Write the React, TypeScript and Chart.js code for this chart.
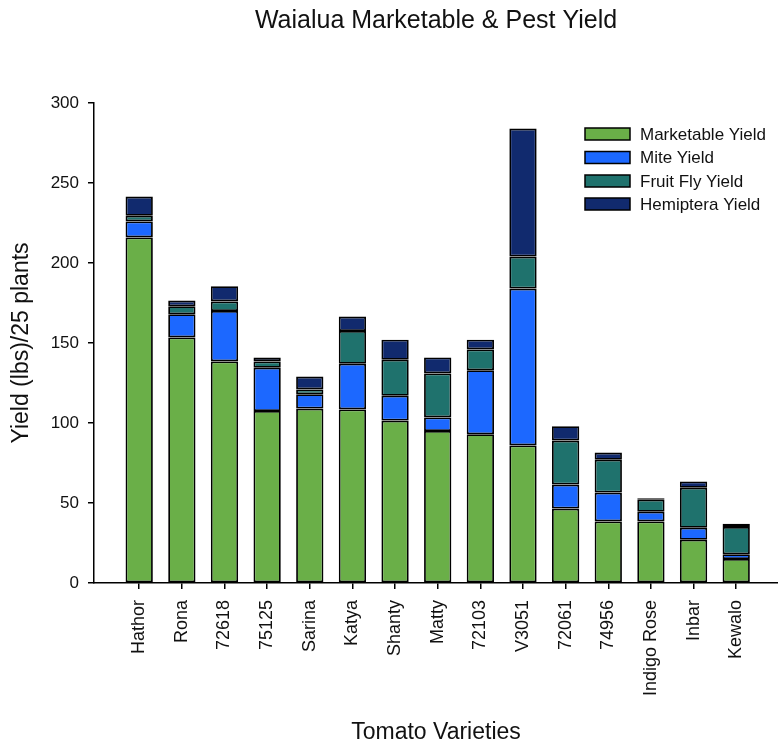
import React, { useEffect, useRef } from "react";
import { Chart, registerables } from "chart.js";

Chart.register(...registerables);

const categories = ["Hathor", "Rona", "72618", "75125", "Sarina", "Katya", "Shanty", "Matty", "72103", "V3051", "72061", "74956", "Indigo Rose", "Inbar", "Kewalo"];
const marketable = [216, 153.5, 138.5, 107.5, 109, 108.5, 101.5, 95, 93, 86, 46.5, 38.5, 38.5, 27, 15];
const mite = [10, 14.5, 31.5, 27, 9, 28.5, 15.5, 8.5, 40, 98, 15, 18, 6, 7.5, 3];
const fruitFly = [3.5, 5, 6, 4, 3, 20.5, 22.5, 27.5, 13, 20, 27.5, 20.5, 7.5, 25, 17];
const hemiptera = [12, 3.5, 9.5, 2.5, 8, 9, 12.5, 10, 6, 80, 9, 4.5, 1, 4, 2];
const seriesNames = ["Marketable Yield", "Mite Yield", "Fruit Fly Yield", "Hemiptera Yield"];
const seriesColors = ["#6aaf48", "#1c68ff", "#1f726d", "#112a6e"];
const yTicks = [0, 50, 100, 150, 200, 250, 300];

const TITLE = "Waialua Marketable & Pest Yield";
const X_TITLE = "Tomato Varieties";
const Y_TITLE = "Yield (lbs)/25 plants";
const FONT = "'Liberation Sans', Arial, sans-serif";

const textPlugin = {
  id: "textPlugin",
  afterDraw(chart: any) {
    const ctx = chart.ctx;
    const area = chart.chartArea;
    const cx = (area.left + area.right) / 2;
    ctx.save();
    ctx.fillStyle = "#111";
    ctx.textAlign = "center";
    ctx.textBaseline = "alphabetic";
    ctx.font = `25px ${FONT}`;
    ctx.fillText(TITLE, cx, 28);
    ctx.font = `23px ${FONT}`;
    ctx.fillText(X_TITLE, cx, 739);
    ctx.save();
    ctx.translate(28, (area.top + area.bottom) / 2);
    ctx.rotate(-Math.PI / 2);
    ctx.font = `23px ${FONT}`;
    ctx.fillText(Y_TITLE, 0, 0);
    ctx.restore();
    // legend
    const rowsY = [134, 157.5, 181, 204];
    ctx.font = `17px ${FONT}`;
    ctx.textAlign = "left";
    ctx.textBaseline = "middle";
    seriesNames.forEach((name, i) => {
      const y = rowsY[i];
      ctx.fillStyle = seriesColors[i];
      ctx.fillRect(585, y - 6, 45, 12);
      ctx.strokeStyle = "#000";
      ctx.lineWidth = 1.5;
      ctx.strokeRect(585, y - 6, 45, 12);
      ctx.fillStyle = "#111";
      ctx.fillText(name, 640, y + 1);
    });
    ctx.restore();
  },
};

export default function App() {
  const ref = useRef<HTMLCanvasElement>(null);
  useEffect(() => {
    if (!ref.current) return;
    const series = [marketable, mite, fruitFly, hemiptera];
    const chart = new Chart(ref.current, {
      type: "bar",
      data: {
        datasets: series.map((vals, s) => ({
          label: seriesNames[s],
          data: vals.map((v, i) => ({ x: i, y: v })),
          backgroundColor: seriesColors[s],
          borderColor: "#000",
          borderWidth: 1.8,
          borderSkipped: false,
          barPercentage: 0.64,
          categoryPercentage: 1,
        })),
      },
      options: {
        animation: false,
        responsive: false,
        layout: { padding: { top: 103, left: 0, right: 0, bottom: 0 } },
        plugins: { legend: { display: false }, title: { display: false }, tooltip: { enabled: false } },
        scales: {
          x: {
            type: "linear",
            stacked: true,
            offset: false,
            min: -1.06,
            max: 14.98,
            afterBuildTicks: (s: any) => {
              s.ticks = categories.map((_, i) => ({ value: i }));
            },
            afterFit: (s: any) => {
              s.height = 160;
            },
            ticks: {
              autoSkip: false,
              maxRotation: 90,
              minRotation: 90,
              padding: 11,
              color: "#111",
              font: { family: FONT, size: 18 },
              callback: (v: any) => categories[v] ?? "",
            },
            grid: { offset: false, drawOnChartArea: false, drawTicks: true, tickLength: 6, color: "#000", lineWidth: 1.5 },
            border: { display: true, color: "#000", width: 1.5 },
          },
          y: {
            stacked: true,
            min: 0,
            max: 300,
            afterBuildTicks: (s: any) => {
              s.ticks = yTicks.map((v) => ({ value: v }));
            },
            afterFit: (s: any) => {
              s.width = 94;
            },
            ticks: {
              padding: 9,
              color: "#111",
              font: { family: FONT, size: 17 },
            },
            grid: { drawOnChartArea: false, drawTicks: true, tickLength: 6, color: "#000", lineWidth: 1.5 },
            border: { display: true, color: "#000", width: 1.5 },
          },
        },
      },
      plugins: [textPlugin],
    } as any);
    return () => chart.destroy();
  }, []);
  return (
    <div style={{ position: "absolute", left: 0, top: 0, width: 778, height: 743, background: "#fff" }}>
      <canvas ref={ref} width={778} height={743} style={{ width: 778, height: 743, display: "block" }} />
    </div>
  );
}
